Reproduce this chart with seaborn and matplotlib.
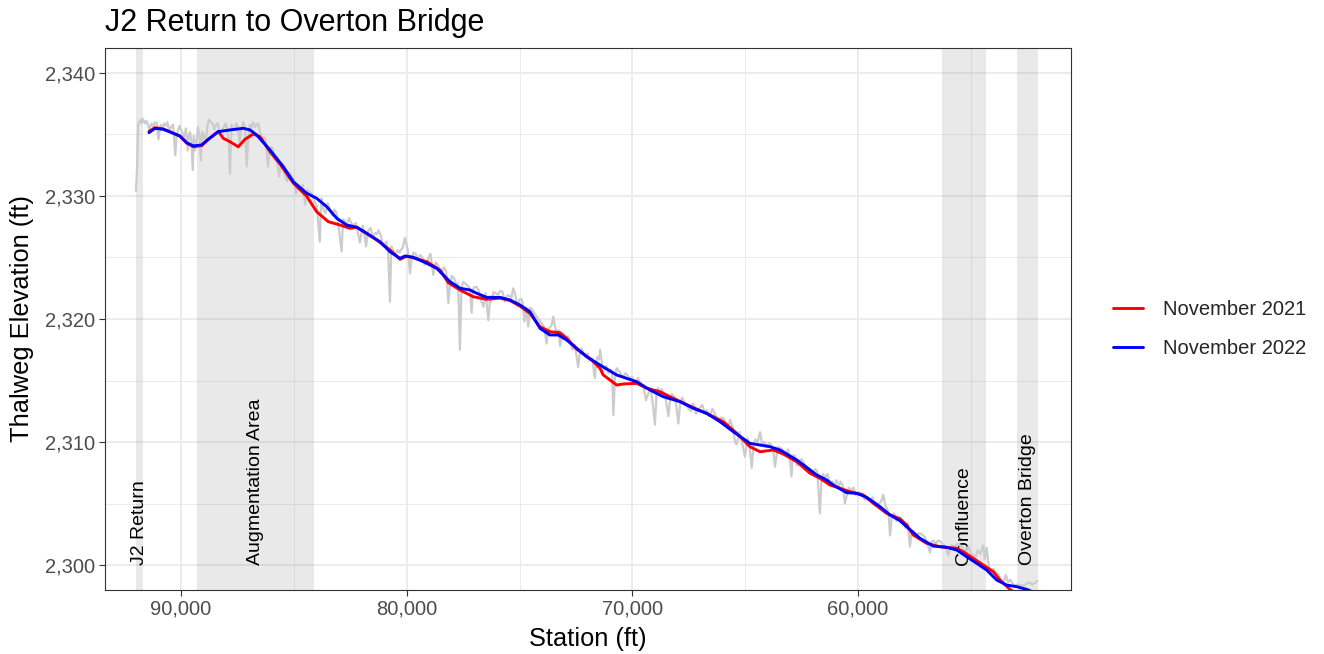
import numpy as np
import pandas as pd
import seaborn as sns
import matplotlib
matplotlib.use("Agg")
import matplotlib.pyplot as plt
from matplotlib.ticker import FuncFormatter, MultipleLocator

# ---------------- data ----------------
nov2021_station = [91417, 91152, 90784, 90341, 90044, 89747, 89454, 89082, 88790, 88347,
                   88125, 87828, 87461, 87164, 86796, 86499, 86056, 85613, 85023, 84430,
                   83987, 83473, 82955, 82512, 82214, 81328, 80739, 80296, 80000, 79112,
                   78523, 78155, 77637, 77048, 76454, 75865, 75422, 74979, 74536, 74092,
                   73649, 73206, 72909, 72466, 71800, 71434, 71287, 70694, 70401, 69808,
                   69365, 68776, 68187, 67300, 66560, 65971, 65377, 64789, 64344, 63755,
                   63312, 62717, 62128, 61685, 61242, 60799, 60356, 59766, 59323, 58730,
                   58140, 57843, 57551, 56957, 56368, 55628, 55336, 54893, 54007, 53710,
                   53267, 53100]
nov2021_elev = [2335.25, 2335.55, 2335.45, 2335.10, 2334.85, 2334.30, 2334.00, 2334.10, 2334.60, 2335.25,
                2334.69, 2334.41, 2334.00, 2334.61, 2335.04, 2334.82, 2333.60, 2332.60, 2331.05, 2329.98,
                2328.72, 2327.91, 2327.64, 2327.37, 2327.46, 2326.42, 2325.61, 2324.85, 2325.12, 2324.66,
                2323.98, 2322.95, 2322.36, 2321.81, 2321.60, 2321.70, 2321.50, 2321.05, 2320.45, 2319.37,
                2318.97, 2318.89, 2318.43, 2317.55, 2316.67, 2315.99, 2315.45, 2314.63, 2314.72, 2314.77,
                2314.37, 2314.09, 2313.55, 2312.80, 2312.20, 2311.65, 2310.71, 2309.62, 2309.21, 2309.35,
                2309.02, 2308.40, 2307.46, 2307.05, 2306.50, 2306.24, 2305.96, 2305.69, 2305.02, 2304.20,
                2303.75, 2303.25, 2302.44, 2301.76, 2301.49, 2301.36, 2301.08, 2300.54, 2299.46, 2298.78,
                2298.02, 2297.80]

nov2022_station = [91417, 91152, 90784, 90341, 90044, 89747, 89454, 89082, 88790, 88347,
                   87828, 87239, 86942, 86645, 86056, 85466, 85023, 84430, 83987, 83543,
                   83100, 82657, 82214, 81770, 81182, 80739, 80296, 80074, 79706, 79112,
                   78669, 78080, 77637, 77194, 76897, 76454, 75865, 75422, 74979, 74536,
                   74092, 73649, 73281, 72909, 72466, 72023, 71434, 70694, 69808, 69218,
                   68629, 67889, 67300, 66706, 66117, 65527, 64789, 63900, 63457, 62717,
                   62274, 61831, 61388, 61095, 60501, 60058, 59615, 59026, 58583, 58140,
                   57843, 57254, 56664, 56071, 55628, 55185, 54742, 54298, 53855, 53412,
                   52969, 52525, 52300]
nov2022_elev = [2335.15, 2335.50, 2335.42, 2335.10, 2334.88, 2334.33, 2334.07, 2334.15, 2334.61, 2335.23,
                2335.37, 2335.50, 2335.37, 2334.96, 2333.74, 2332.38, 2331.16, 2330.22, 2329.81, 2329.13,
                2328.19, 2327.64, 2327.46, 2326.97, 2326.28, 2325.47, 2324.93, 2325.12, 2325.02, 2324.53,
                2324.12, 2323.03, 2322.50, 2322.36, 2322.09, 2321.76, 2321.76, 2321.54, 2321.14, 2320.59,
                2319.24, 2318.70, 2318.70, 2318.29, 2317.62, 2316.93, 2316.26, 2315.45, 2314.90, 2314.23,
                2313.68, 2313.28, 2312.74, 2312.33, 2311.65, 2310.84, 2309.89, 2309.62, 2309.35, 2308.54,
                2307.94, 2307.32, 2306.91, 2306.50, 2305.88, 2305.83, 2305.50, 2304.74, 2304.07, 2303.60,
                2303.11, 2302.17, 2301.54, 2301.44, 2301.22, 2300.67, 2300.14, 2299.59, 2298.78, 2298.37,
                2298.24, 2298.02, 2297.85]

# raw (unsmoothed) thalweg profile, read in two passes
raw_station = [92000, 91950, 91900, 91820, 91700, 91600, 91500, 91400, 91300, 91150,
               91000, 90900, 90750, 90600, 90450, 90250, 90150, 90000, 89850, 89700,
               89600, 89480, 89380, 89250, 89120, 89000, 88900, 88750, 88600, 88450,
               88300, 88100, 87950, 87830, 87700, 87550, 87400, 87250, 87090, 86950,
               86800, 86650, 86500, 86350, 86150, 86000, 85850, 85650, 85500, 85300,
               85100, 84900, 84700, 84500, 84300, 84100, 83850, 83700, 83500, 83300,
               83100, 82880, 82750, 82550, 82400, 82070, 81950, 81800, 81600, 81400,
               81250, 81050, 80900, 80740, 80600, 80400, 80250, 80080, 79850, 79700,
               79500, 79300, 79100, 78950, 78820, 78650, 78450, 78250, 78150, 78000,
               77800, 77640, 77500, 77300, 77120, 77000, 76800, 76600, 76380, 76250,
               76050, 75850, 75650, 75450, 75280, 75100, 74900, 74780, 74610, 74450,
               74250, 74000, 73800, 73650, 73500, 73350, 73200, 73000, 72850, 72650,
               72400, 72250, 72050, 71900, 71660, 71550, 71430, 71300, 71150, 70980,
               70840, 70700, 70500, 70300, 70100, 69950, 69750, 69600, 69400, 69000,
               68850, 68700, 68400, 68250, 67960, 67800, 67600, 67400, 67250, 67100,
               66900, 66700, 66450, 66250, 66050, 65850, 65670, 65450, 65380, 65250,
               65010, 64900, 64710, 64550, 64340, 64150, 63950, 63680, 63550, 63300,
               63100, 62950, 62800, 62600, 62400, 62200, 61900, 61690, 61550, 61350,
               61150, 60950, 60780, 60580, 60400, 60200, 60000, 59800, 59600, 59350,
               59100, 58880, 58700, 58580, 58400, 58200, 57980, 57800, 57700, 57550,
               57300, 57050, 56810, 56650, 56450, 56250, 56000, 55850, 55600, 55350,
               55100, 54900, 54700, 54450, 54300, 54150, 54000, 53800, 53600, 53450,
               53250, 53050, 52850, 52600, 52400, 52200, 52050]
raw_elev = [2330.4, 2332.0, 2335.8, 2336.2, 2336.3, 2335.9, 2336.0, 2335.4, 2335.9, 2336.0,
            2334.6, 2335.8, 2335.9, 2336.0, 2335.6, 2333.3, 2335.2, 2335.4, 2334.8, 2333.7,
            2335.2, 2332.1, 2333.7, 2335.6, 2332.9, 2334.7, 2334.4, 2336.2, 2335.9, 2335.8,
            2335.2, 2335.6, 2335.4, 2331.8, 2335.4, 2335.9, 2334.3, 2336.0, 2332.4, 2335.8,
            2336.0, 2335.8, 2335.2, 2334.8, 2332.4, 2334.0, 2333.0, 2331.6, 2332.6, 2331.2,
            2331.6, 2330.2, 2330.6, 2329.3, 2330.3, 2329.6, 2326.3, 2329.0, 2329.4, 2328.4,
            2328.6, 2325.5, 2328.0, 2328.2, 2327.6, 2326.2, 2327.6, 2325.9, 2327.4, 2327.0,
            2327.2, 2326.0, 2326.3, 2321.4, 2325.6, 2325.6, 2325.6, 2326.6, 2323.7, 2325.4,
            2324.8, 2325.0, 2324.6, 2325.3, 2323.6, 2324.5, 2323.8, 2323.9, 2321.3, 2323.5,
            2322.8, 2317.5, 2323.0, 2322.7, 2320.5, 2322.6, 2322.3, 2321.0, 2319.9, 2321.5,
            2322.1, 2322.3, 2321.4, 2321.9, 2322.5, 2321.0, 2321.6, 2319.8, 2319.4, 2320.8,
            2320.2, 2319.6, 2318.0, 2319.3, 2320.2, 2318.9, 2317.8, 2318.5, 2318.6, 2317.5,
            2316.1, 2317.6, 2317.0, 2316.6, 2315.2, 2316.9, 2317.5, 2315.8, 2316.2, 2315.9,
            2312.2, 2316.0, 2315.5, 2315.6, 2315.1, 2315.0, 2315.2, 2314.7, 2313.4, 2311.4,
            2314.4, 2314.3, 2312.1, 2313.9, 2311.5, 2313.6, 2313.0, 2312.5, 2312.9, 2312.5,
            2313.0, 2312.6, 2312.7, 2311.9, 2312.0, 2311.5, 2311.8, 2310.0, 2309.8, 2310.8,
            2308.8, 2310.3, 2307.9, 2310.2, 2310.8, 2310.0, 2309.9, 2308.0, 2309.6, 2309.3,
            2309.4, 2307.2, 2308.9, 2308.5, 2308.3, 2307.6, 2307.8, 2304.2, 2307.4, 2307.4,
            2306.8, 2306.9, 2306.8, 2305.0, 2306.3, 2306.3, 2305.9, 2305.8, 2305.5, 2305.5,
            2305.0, 2305.7, 2304.5, 2302.4, 2304.2, 2303.9, 2303.5, 2303.4, 2301.5, 2302.8,
            2302.6, 2302.3, 2301.0, 2302.0, 2302.0, 2301.7, 2300.8, 2301.6, 2301.7, 2301.4,
            2301.5, 2300.8, 2301.2, 2301.6, 2301.4, 2299.6, 2299.7, 2299.3, 2298.6, 2299.2,
            2298.8, 2298.3, 2298.4, 2298.4, 2298.6, 2298.5, 2298.7]

raw_station_b = [91750, 91550, 91350, 91220, 91070, 90820, 90680, 90520, 90350, 90200,
                 90070, 89920, 89780, 89650, 89540, 89430, 89310, 89180, 89060, 88950,
                 88820, 88680, 88520, 88370, 88200, 88020, 87880, 87760, 87620, 87480,
                 87330, 87170, 87020, 86880, 86720, 86580, 86420, 86250, 86080, 85920,
                 85750, 85580, 85400, 85200, 85000, 84800, 84600, 84400, 84200, 83980,
                 83780, 83600, 83400, 83200, 83000, 82820, 82650, 82480, 82250, 82150,
                 81880, 81700, 81500, 81320, 81150, 80980, 80820, 80680, 80500, 80320,
                 80160, 79950, 79780, 79600, 79400, 79200, 79020, 78880, 78720, 78550,
                 78350, 78080, 77900, 77720, 77570, 77400, 77200, 77060, 76900, 76700,
                 76500, 76320, 76150, 75950, 75750, 75550, 75370, 75200, 75000, 74850,
                 74700, 74530, 74350, 74120, 73900, 73720, 73580, 73420, 73270, 73100,
                 72920, 72750, 72550, 72320, 72150, 71980, 71780, 71600, 71480, 71220,
                 71060, 70900, 70770, 70600, 70400, 70200, 70020, 69850, 69680, 69500,
                 69200, 69100, 68920, 68780, 68550, 68320, 68100, 67880, 67700, 67500,
                 67330, 67180, 67000, 66800, 66600, 66350, 66150, 65950, 65770, 65550,
                 65130, 64800, 64630, 64450, 64250, 64050, 63850, 63750, 63420, 63200,
                 63020, 62880, 62700, 62500, 62300, 62050, 61800, 61620, 61450, 61250,
                 61050, 60870, 60680, 60480, 60300, 60100, 59900, 59700, 59480, 59220,
                 58990, 58800, 58640, 58500, 58300, 58100, 57900, 57620, 57430, 57180,
                 56930, 56730, 56550, 56350, 56130, 55930, 55720, 55480, 55230, 55000,
                 54800, 54580, 54380, 54230, 54080, 53900, 53700, 53520, 53350, 53150,
                 52950, 52720, 52500, 52300, 52120]
raw_elev_b = [2335.9, 2336.1, 2335.7, 2335.6, 2335.9, 2335.5, 2335.7, 2335.2, 2335.8, 2334.9,
              2335.7, 2335.1, 2335.5, 2334.9, 2334.5, 2334.9, 2334.4, 2335.0, 2335.2, 2335.0,
              2335.8, 2336.0, 2335.4, 2335.9, 2335.3, 2335.9, 2334.2, 2335.8, 2335.4, 2335.6,
              2335.4, 2335.7, 2334.6, 2335.5, 2335.6, 2335.9, 2334.5, 2334.6, 2333.6, 2333.8,
              2332.8, 2332.4, 2331.7, 2331.9, 2331.4, 2330.9, 2330.9, 2330.5, 2330.2, 2329.2,
              2329.8, 2328.6, 2329.0, 2328.9, 2327.3, 2328.1, 2327.7, 2327.9, 2327.8, 2326.9,
              2327.0, 2327.2, 2326.6, 2326.9, 2326.8, 2326.1, 2325.4, 2325.9, 2325.2, 2325.4,
              2325.9, 2325.6, 2324.9, 2325.3, 2325.2, 2324.4, 2325.0, 2324.4, 2324.6, 2324.1,
              2324.2, 2322.8, 2323.3, 2322.9, 2322.6, 2322.9, 2322.5, 2322.4, 2322.6, 2321.5,
              2322.1, 2321.3, 2322.2, 2322.0, 2322.2, 2321.9, 2321.6, 2322.1, 2321.6, 2321.2,
              2320.9, 2320.9, 2320.5, 2319.9, 2319.3, 2319.2, 2319.5, 2319.3, 2319.1, 2318.7,
              2318.4, 2318.1, 2317.9, 2317.3, 2317.2, 2317.2, 2316.8, 2316.5, 2316.7, 2316.0,
              2315.6, 2315.8, 2315.2, 2315.8, 2315.3, 2315.4, 2315.3, 2314.8, 2314.9, 2314.5,
              2314.4, 2313.2, 2314.2, 2313.8, 2313.8, 2313.6, 2313.6, 2313.2, 2313.3, 2312.7,
              2313.1, 2312.3, 2312.8, 2312.4, 2312.1, 2312.3, 2311.7, 2311.9, 2311.2, 2311.2,
              2309.9, 2309.5, 2309.7, 2310.0, 2309.8, 2309.6, 2309.8, 2309.2, 2309.5, 2309.0,
              2308.7, 2308.9, 2308.1, 2308.6, 2307.9, 2307.4, 2307.6, 2306.9, 2307.1, 2306.7,
              2306.6, 2306.2, 2306.5, 2305.8, 2306.0, 2305.7, 2305.9, 2305.3, 2305.3, 2304.8,
              2305.1, 2304.9, 2304.0, 2304.0, 2303.6, 2303.8, 2303.0, 2302.7, 2302.3, 2302.5,
              2301.8, 2301.9, 2301.7, 2301.9, 2301.5, 2301.3, 2301.5, 2301.6, 2301.0, 2300.9,
              2300.6, 2300.9, 2300.5, 2300.2, 2299.4, 2299.4, 2298.9, 2298.8, 2298.6, 2298.5,
              2298.4, 2298.3, 2298.5, 2298.4, 2298.6]

region_names = ["J2 Return", "Augmentation Area", "Confluence", "Overton Bridge"]
region_start = [92000, 89300, 56300, 52970]
region_end = [91700, 84100, 54330, 52010]

series_names = ["November 2021", "November 2022"]
series_colors = ["#FF0000", "#0000FF"]

# ---------------- build frames ----------------
smooth = pd.concat([
    pd.DataFrame({"Station": nov2021_station, "Elevation": nov2021_elev, "Survey": series_names[0]}),
    pd.DataFrame({"Station": nov2022_station, "Elevation": nov2022_elev, "Survey": series_names[1]}),
], ignore_index=True)
raw = pd.DataFrame({"Station": raw_station + raw_station_b, "Elevation": raw_elev + raw_elev_b})
raw = raw.sort_values("Station", ascending=False).reset_index(drop=True)

# ---------------- style ----------------
sns.set_theme(style="white")
plt.rcParams["font.family"] = ["Liberation Sans", "DejaVu Sans"]

fig = plt.figure(figsize=(13.24, 6.54), dpi=100)
ax = fig.add_axes([105 / 1324, 1 - 590 / 654, (1071 - 105) / 1324, (590 - 48) / 654])

ax.set_xlim(93367, 50563)
ax.set_ylim(2297.97, 2342.03)

ax.xaxis.set_major_locator(MultipleLocator(10000))
ax.xaxis.set_minor_locator(MultipleLocator(5000))
ax.yaxis.set_major_locator(MultipleLocator(10))
ax.yaxis.set_minor_locator(MultipleLocator(5))
fmt = FuncFormatter(lambda v, p: f"{v:,.0f}")
ax.xaxis.set_major_formatter(fmt)
ax.yaxis.set_major_formatter(fmt)

ax.set_axisbelow(True)
ax.grid(which="major", color="#EBEBEB", linewidth=1.3)
ax.grid(which="minor", color="#EBEBEB", linewidth=0.7)

for sp in ax.spines.values():
    sp.set_color("#333333")
    sp.set_linewidth(0.8)
ax.tick_params(axis="both", which="major", length=4, width=0.8, color="#333333",
               labelsize=14.5, labelcolor="#4D4D4D", pad=3, bottom=True, left=True)
ax.tick_params(axis="both", which="minor", length=0)

# shaded regions + labels
for name, s, e in zip(region_names, region_start, region_end):
    ax.axvspan(s, e, color="#7F7F7F", alpha=0.17, linewidth=0, zorder=0.6)
    ax.text((s + e) / 2, 2300, name, rotation=90, ha="center", va="bottom",
            fontsize=14, color="black", zorder=1)

# raw thalweg (grey)
sns.lineplot(data=raw, x="Station", y="Elevation", color="#CCCCCC", linewidth=1.6,
             sort=False, estimator=None, ax=ax, zorder=2)

# smoothed surveys
sns.lineplot(data=smooth, x="Station", y="Elevation", hue="Survey",
             hue_order=series_names, palette=dict(zip(series_names, series_colors)),
             linewidth=2.1, sort=False, estimator=None, ax=ax, zorder=3)

ax.set_xlabel("Station (ft)", fontsize=18.3, color="black", labelpad=6)
ax.set_ylabel("Thalweg Elevation (ft)", fontsize=18.3, color="black", labelpad=8)
ax.set_title("J2 Return to Overton Bridge", loc="left", fontsize=22, color="black", pad=12)

handles, labels = ax.get_legend_handles_labels()
ax.legend_.remove()
for h in handles:
    h.set_linewidth(2.1)
fig.legend(handles, labels, loc="center left", bbox_to_anchor=(1113 / 1324, 1 - 329 / 654),
           frameon=False, fontsize=14.5, handlelength=1.5, handletextpad=1.0,
           labelspacing=0.95, borderpad=0, borderaxespad=0)

fig.savefig("out.png", dpi=100)
